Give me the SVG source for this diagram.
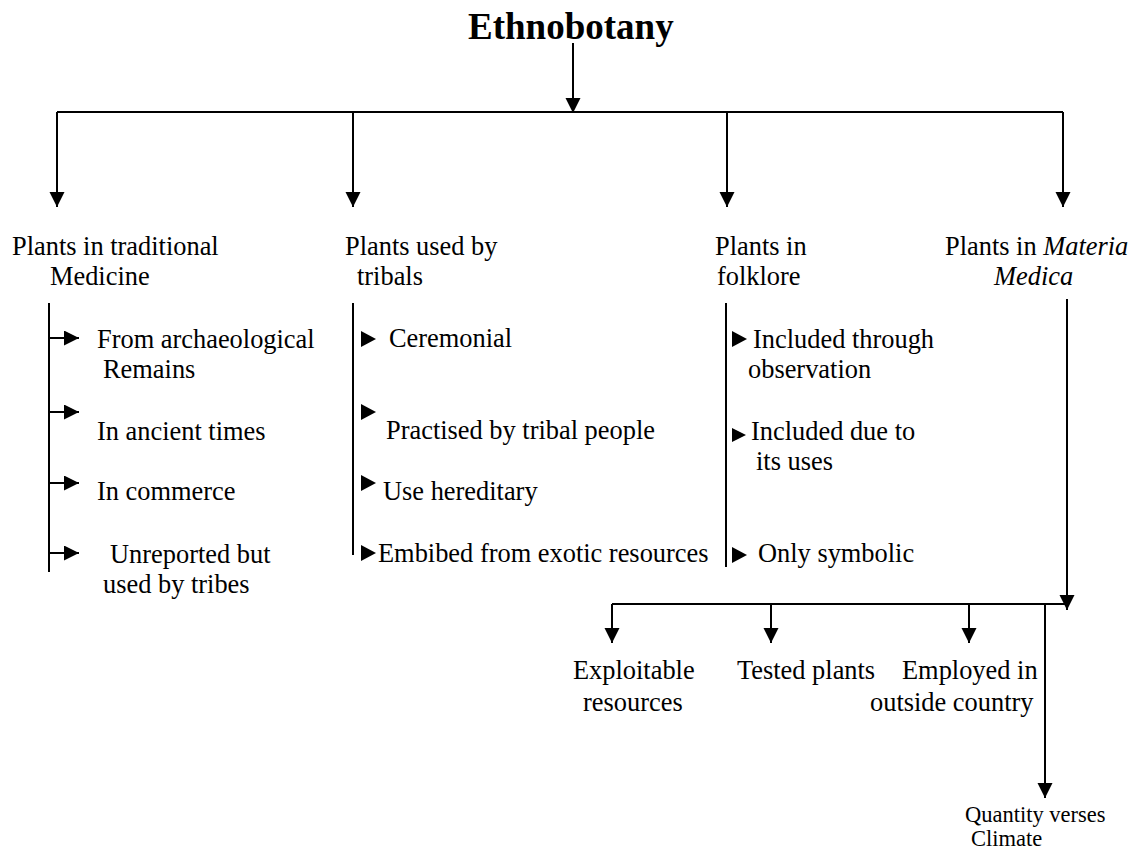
<svg xmlns="http://www.w3.org/2000/svg" width="1136" height="850" viewBox="0 0 1136 850">
<style>
  text { font-family: "Liberation Serif", "Times New Roman", serif; font-size: 26.4px; fill: #000; }
  .title { font-weight: bold; font-size: 37px; }
  .small { font-size: 22.5px; }
  .it { font-style: italic; }
  .ln { stroke: #000; stroke-width: 2; fill: none; }
  .tri { fill: #000; }
</style>
<defs>
  <marker id="ah" markerUnits="userSpaceOnUse" markerWidth="16" markerHeight="16" refX="15" refY="7.5" orient="auto">
    <path d="M0,0 L15,7.5 L0,15 Z" fill="#000"/>
  </marker>
</defs>

<g id="connectors">
  <line class="ln" x1="573" y1="43" x2="573" y2="113" marker-end="url(#ah)"/>
  <line class="ln" x1="57" y1="112" x2="1063" y2="112"/>
  <line class="ln" x1="57" y1="112" x2="57" y2="207" marker-end="url(#ah)"/>
  <line class="ln" x1="353" y1="112" x2="353" y2="207" marker-end="url(#ah)"/>
  <line class="ln" x1="727" y1="112" x2="727" y2="207" marker-end="url(#ah)"/>
  <line class="ln" x1="1063" y1="112" x2="1063" y2="207" marker-end="url(#ah)"/>

  <line class="ln" x1="49" y1="303" x2="49" y2="572"/>
  <line class="ln" x1="49" y1="338" x2="79" y2="338" marker-end="url(#ah)"/>
  <line class="ln" x1="49" y1="412" x2="79" y2="412" marker-end="url(#ah)"/>
  <line class="ln" x1="49" y1="483" x2="79" y2="483" marker-end="url(#ah)"/>
  <line class="ln" x1="49" y1="553" x2="79" y2="553" marker-end="url(#ah)"/>

  <line class="ln" x1="353" y1="303" x2="353" y2="555"/>
  <polygon class="tri" points="361,331 376,339 361,347"/>
  <polygon class="tri" points="361,404 376,412 361,420"/>
  <polygon class="tri" points="361,475 376,483 361,491"/>
  <polygon class="tri" points="361,545 376,553 361,561"/>

  <line class="ln" x1="726" y1="303" x2="726" y2="567"/>
  <polygon class="tri" points="732,331 747,339 732,347"/>
  <polygon class="tri" points="732,428 746,435 732,442"/>
  <polygon class="tri" points="732,547 747,555 732,563"/>

  <line class="ln" x1="1067" y1="299" x2="1067" y2="610" marker-end="url(#ah)"/>
  <line class="ln" x1="612" y1="604" x2="1067" y2="604"/>
  <line class="ln" x1="612" y1="604" x2="612" y2="643" marker-end="url(#ah)"/>
  <line class="ln" x1="771" y1="604" x2="771" y2="643" marker-end="url(#ah)"/>
  <line class="ln" x1="969" y1="604" x2="969" y2="643" marker-end="url(#ah)"/>
  <line class="ln" x1="1045" y1="604" x2="1045" y2="798" marker-end="url(#ah)"/>
</g>

<g id="root"><text class="title" x="468" y="39">Ethnobotany</text></g>

<g id="traditional-medicine">
  <text x="12" y="255">Plants in traditional</text>
  <text x="50" y="285">Medicine</text>
</g>
<g id="tm-archaeological"><text x="97" y="348">From archaeological</text><text x="103" y="378">Remains</text></g>
<g id="tm-ancient"><text x="97" y="440">In ancient times</text></g>
<g id="tm-commerce"><text x="97" y="500">In commerce</text></g>
<g id="tm-unreported"><text x="110" y="563">Unreported but</text><text x="103" y="593">used by tribes</text></g>

<g id="tribals">
  <text x="345" y="255">Plants used by</text>
  <text x="357" y="285">tribals</text>
</g>
<g id="tr-ceremonial"><text x="389" y="347">Ceremonial</text></g>
<g id="tr-practised"><text x="386" y="439">Practised by tribal people</text></g>
<g id="tr-hereditary"><text x="383" y="500">Use hereditary</text></g>
<g id="tr-embibed"><text x="378" y="562">Embibed from exotic resources</text></g>

<g id="folklore">
  <text x="715" y="255">Plants in</text>
  <text x="717" y="285">folklore</text>
</g>
<g id="fl-observation"><text x="753" y="348">Included through</text><text x="748" y="378">observation</text></g>
<g id="fl-uses"><text x="751" y="440">Included due to</text><text x="756" y="470">its uses</text></g>
<g id="fl-symbolic"><text x="758" y="562">Only symbolic</text></g>

<g id="materia-medica">
  <text x="945" y="255">Plants in <tspan class="it">Materia</tspan></text>
  <text class="it" x="994" y="285">Medica</text>
</g>
<g id="mm-exploitable"><text x="573" y="679">Exploitable</text><text x="583" y="711">resources</text></g>
<g id="mm-tested"><text x="737" y="679">Tested plants</text></g>
<g id="mm-employed"><text x="902" y="679">Employed in</text><text x="870" y="711">outside country</text></g>
<g id="mm-quantity"><text class="small" x="965" y="822">Quantity verses</text><text class="small" x="971" y="846">Climate</text></g>
</svg>
